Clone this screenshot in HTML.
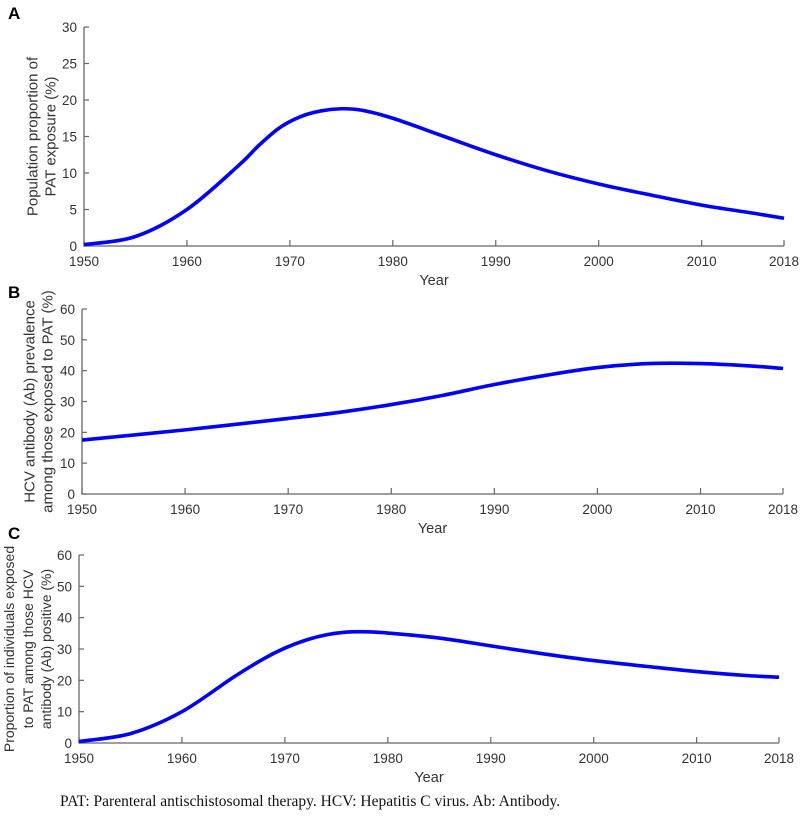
<!DOCTYPE html>
<html><head><meta charset="utf-8"><style>
body{margin:0;background:#fff;width:800px;height:823px;overflow:hidden}
svg{display:block}
text{font-family:"Liberation Sans",sans-serif}
</style></head><body>
<svg id="chart" width="800" height="823" xmlns="http://www.w3.org/2000/svg">
<text x="60" y="806" style="font-family:'Liberation Serif',serif" font-size="15.5" fill="#111">PAT: Parenteral antischistosomal therapy. HCV: Hepatitis C virus. Ab: Antibody.</text>
</svg>
<script>
const years = [1950,1955,1960,1965,1967,1969,1971,1973,1975,1977,1980,1985,1990,1995,2000,2005,2010,2015,2018];
const seriesA = [0.2,1.3,5,11,13.8,16.2,17.7,18.5,18.8,18.6,17.5,15,12.5,10.3,8.5,7,5.6,4.5,3.8];
const yearsB = [1950,1960,1970,1975,1980,1985,1990,1995,2000,2005,2010,2015,2018];
const seriesB = [17.5,20.8,24.5,26.5,29,32,35.5,38.5,41,42.3,42.3,41.5,40.7];
const yearsC = [1950,1955,1960,1965,1968,1970,1972,1974,1976,1978,1980,1985,1990,1995,2000,2005,2010,2015,2018];
const seriesC = [0.5,3,10,21,27,30.3,32.8,34.5,35.4,35.5,35.1,33.5,31,28.5,26.3,24.5,22.8,21.5,21];
const xTicks = [1950,1960,1970,1980,1990,2000,2010,2018];
const yTicksA = [0,5,10,15,20,25,30];
const yTicksB = [0,10,20,30,40,50,60];
const yTicksC = [0,10,20,30,40,50,60];

const NS = "http://www.w3.org/2000/svg";
const svg = document.getElementById('chart');
function mk(tag, attrs, parent){const e=document.createElementNS(NS,tag);for(const k in attrs)e.setAttribute(k,attrs[k]);(parent||svg).appendChild(e);return e;}

function panel(cfg){
  const g = mk('g',{});
  
  
  const xs = v => cfg.l + (v-1950)/(2018-1950)*(cfg.r-cfg.l);
  const ys = v => cfg.b - v/cfg.ymax*(cfg.b-cfg.t);
  const lab = mk('text',{x:8,y:cfg.labY,'font-size':17,'font-weight':'bold',fill:'#000'},g);
  lab.textContent = cfg.id;
  
  
  const ax = mk('path',{d:`M${cfg.l},${cfg.t}H${cfg.l}V${cfg.b}H${cfg.r}`,stroke:'#666',fill:'none','stroke-width':1.3},g);
  
  
  cfg.yt.forEach(v=>{
    const y=ys(v);
    mk('line',{x1:cfg.l,x2:cfg.l+5,y1:y,y2:y,stroke:'#666','stroke-width':1.2},g);
    const t=mk('text',{x:cfg.l-7,y:y+5,'text-anchor':'end','font-size':13.5,fill:'#333'},g);
    t.textContent=v;
    
    
  });
  xTicks.forEach(v=>{
    const x=xs(v);
    mk('line',{x1:x,x2:x,y1:cfg.b,y2:cfg.b-6,stroke:'#666','stroke-width':1.2},g);
    const t=mk('text',{x:x,y:cfg.b+20,'text-anchor':'middle','font-size':13.5,fill:'#333'},g);
    t.textContent=v;
    
    
  });
  const xt=mk('text',{x:(cfg.l+cfg.r)/2,y:cfg.b+39,'text-anchor':'middle','font-size':14.5,fill:'#333'},g);
  xt.textContent='Year';
  
  
  const cy=(cfg.t+cfg.b)/2;
  cfg.ylab.forEach((s,i)=>{
    const x=cfg.ylx[i];
    const t=mk('text',{x:0,y:0,transform:`translate(${x},${cy}) rotate(-90)`,'text-anchor':'middle','dominant-baseline':'central','font-size':cfg.yfs,fill:'#333'},g);
    t.textContent=s;
    
    
  });
  const P=cfg.xv.map((v,i)=>[xs(v),ys(cfg.yv[i])]);
  let d=`M${P[0][0]},${P[0][1]}`;
  for(let i=0;i<P.length-1;i++){
    const p0=P[Math.max(0,i-1)],p1=P[i],p2=P[i+1],p3=P[Math.min(P.length-1,i+2)];
    const c1=[p1[0]+(p2[0]-p0[0])/6,p1[1]+(p2[1]-p0[1])/6];
    const c2=[p2[0]-(p3[0]-p1[0])/6,p2[1]-(p3[1]-p1[1])/6];
    d+=`C${c1[0]},${c1[1]} ${c2[0]},${c2[1]} ${p2[0]},${p2[1]}`;
  }
  const ln=mk('path',{d:d,stroke:'#0000ff',fill:'none','stroke-width':3.6,'stroke-linejoin':'round'},g);
  
  
}
panel({id:'A',labY:19,l:84,r:784,t:27,b:246,ymax:30,yt:yTicksA,xv:years,yv:seriesA,yfs:15,
  ylab:['Population proportion of','PAT exposure (%)'],ylx:[33,51]});
panel({id:'B',labY:298,l:82,r:783,t:309,b:494,ymax:60,yt:yTicksB,xv:yearsB,yv:seriesB,yfs:15,
  ylab:['HCV antibody (Ab) prevalence','among those exposed to PAT (%)'],ylx:[30,48]});
panel({id:'C',labY:539,l:79,r:779,t:555,b:743,ymax:60,yt:yTicksC,xv:yearsC,yv:seriesC,yfs:14,
  ylab:['Proportion of individuals exposed','to PAT among those HCV','antibody (Ab) positive (%)'],ylx:[9,28,46]});
</script>
</body></html>
